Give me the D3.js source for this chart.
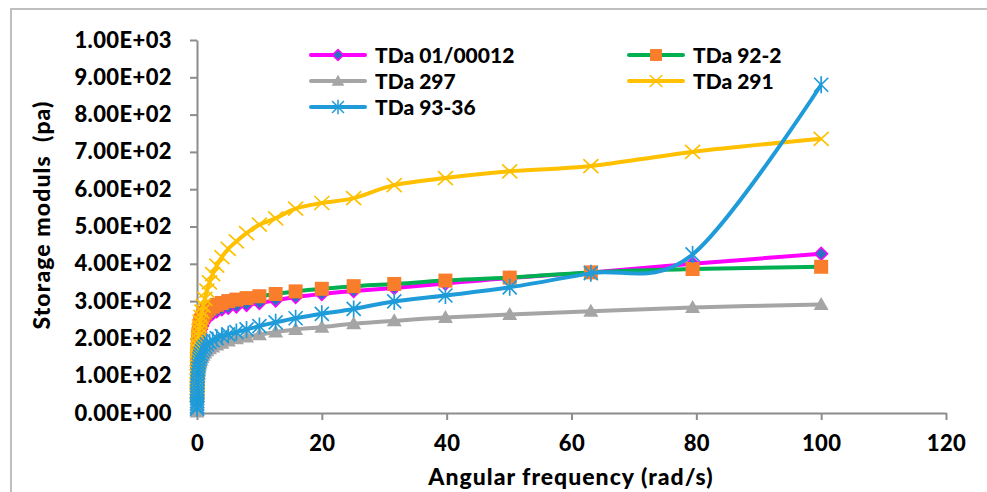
<!DOCTYPE html>
<html>
<head>
<meta charset="utf-8">
<script src="https://cdn.jsdelivr.net/npm/d3@7"></script>
<style>
  html, body { margin: 0; padding: 0; background: #fff; }
  svg { display: block; font-family: Lato, "Open Sans", sans-serif; font-weight: 900; }
</style>
</head>
<body>
<svg id="chart" width="987" height="492"></svg>
<script>
// ---- data ----
const freq = [0.01, 0.0126, 0.0158, 0.02, 0.0251, 0.0316, 0.0398, 0.0501, 0.0631, 0.0794,
  0.1, 0.126, 0.158, 0.2, 0.251, 0.316, 0.398, 0.501, 0.631, 0.794,
  1, 1.26, 1.58, 2, 2.51, 3.16, 3.98, 5.01, 6.31, 7.94,
  10, 12.6, 15.8, 20, 25.1, 31.6, 39.8, 50.1, 63.1, 79.4, 100];

const seriesNames = ["TDa 01/00012", "TDa 92-2", "TDa 297", "TDa 291", "TDa 93-36"];

const tda01_00012 = [38, 48, 58, 68, 78, 89, 100, 111, 122, 133,
  144, 155, 166, 177, 187, 197, 207, 216, 225, 233,
  241, 248, 255, 261, 267, 273, 278, 282, 286, 290,
  295, 302, 311, 319, 327, 335, 347, 362, 377, 400, 427];

const tda92_2 = [51, 63, 75, 87, 99, 111, 123, 135, 147, 159,
  170, 181, 192, 203, 213, 222, 231, 240, 248, 255,
  262, 268, 274, 280, 285, 290, 295, 300, 304, 308,
  313, 319, 326, 333, 340, 346, 355, 363, 377, 386, 392];

const tda297 = [3, 8, 14, 20, 27, 34, 42, 50, 58, 67,
  76, 85, 94, 103, 112, 120, 128, 135, 142, 149,
  155, 161, 167, 172, 177, 182, 187, 193, 199, 204,
  210, 217, 224, 230, 239, 247, 256, 264, 273, 283, 291];

const tda291 = [48, 58, 68, 78, 88, 99, 110, 121, 133, 145,
  157, 170, 182, 195, 207, 220, 232, 245, 258, 272,
  288, 306, 328, 350, 372, 395, 418, 440, 460, 482,
  505, 522, 548, 563, 576, 611, 630, 648, 662, 700, 735];

const tda93_36 = [12, 18, 25, 32, 40, 48, 56, 65, 74, 83,
  92, 101, 110, 119, 128, 136, 144, 151, 158, 165,
  172, 178, 184, 190, 195, 201, 206, 211, 217, 224,
  233, 243, 254, 266, 279, 299, 315, 337, 375, 425, 880];

const xTicks = [0, 20, 40, 60, 80, 100, 120];
const yTicks = [0, 100, 200, 300, 400, 500, 600, 700, 800, 900, 1000];

const xTitle = "Angular frequency (rad/s)";
const yTitle = "Storage moduls  (pa)";

// ---- styles ----
const styles = [
  { line: "#FF00FF", marker: "diamond", fill: "#2E6FC4", stroke: "#FF00FF" },
  { line: "#00B050", marker: "square", fill: "#F97D2A", stroke: "none" },
  { line: "#A5A5A5", marker: "triangle", fill: "#A5A5A5", stroke: "none" },
  { line: "#FFC000", marker: "x", fill: "none", stroke: "#FFC000" },
  { line: "#1F9BD9", marker: "star", fill: "none", stroke: "#1F9BD9" }
];
const seriesValues = [tda01_00012, tda92_2, tda297, tda291, tda93_36];

function markerPath(type, s) {
  switch (type) {
    case "diamond": return `M0,${-6.5*s}L${6.5*s},0L0,${6.5*s}L${-6.5*s},0Z`;
    case "square": return `M${-7*s},${-7*s}H${7*s}V${7*s}H${-7*s}Z`;
    case "triangle": return `M0,${-7.5*s}L${7.5*s},${5.5*s}L${-7.5*s},${5.5*s}Z`;
    case "x": return `M${-7.5*s},${-7*s}L${7.5*s},${7*s}M${-7.5*s},${7*s}L${7.5*s},${-7*s}`;
    case "star": return `M${-7*s},${-7*s}L${7*s},${7*s}M${-7*s},${7*s}L${7*s},${-7*s}M0,${-8.5*s}V${8.5*s}`;
  }
}

const svg = d3.select("#chart");

// outer frame (chart area border)
svg.append("path")
  .attr("d", "M11,492V9H987")
  .attr("fill", "none").attr("stroke", "#BFBFBF").attr("stroke-width", 2);

const x = d3.scaleLinear().domain([0, 120]).range([197, 946]);
const y = d3.scaleLinear().domain([0, 1000]).range([413, 40]);

function fmtE(v) {
  const [m, e] = v.toExponential(2).split("e");
  const sign = e[0] === "-" ? "-" : "+";
  const digits = e.replace(/[+-]/, "").padStart(2, "0");
  return `${m}E${sign}${digits}`;
}

const axisColor = "#8C8C8C";

const gy = svg.append("g").attr("transform", "translate(197,0)")
  .call(d3.axisLeft(y).tickValues(yTicks).tickFormat(fmtE).tickSize(7).tickSizeOuter(0).tickPadding(18));
const gx = svg.append("g").attr("transform", "translate(0,413)")
  .call(d3.axisBottom(x).tickValues(xTicks).tickFormat(d3.format("d")).tickSize(7).tickSizeOuter(0).tickPadding(15));

[gy, gx].forEach(g => {
  g.select(".domain").attr("stroke", axisColor).attr("stroke-width", 2);
  g.selectAll(".tick line").attr("stroke", axisColor).attr("stroke-width", 2);
  g.selectAll(".tick text").attr("fill", "#000").attr("font-size", 22)
    .attr("letter-spacing", "0.4px")
    .attr("font-family", "Lato, 'Open Sans', sans-serif").attr("font-weight", 900);
});

// axis titles
svg.append("text")
  .attr("transform", "translate(50,215) rotate(-90)")
  .attr("text-anchor", "middle")
  .attr("font-size", 23)
  .attr("letter-spacing", "1.1px")
  .style("white-space", "pre")
  .text(yTitle);

svg.append("text")
  .attr("x", 571).attr("y", 485)
  .attr("text-anchor", "middle")
  .attr("font-size", 23)
  .attr("letter-spacing", "1px")
  .text(xTitle);

// series
const line = d3.line()
  .x(d => x(d[0]))
  .y(d => y(d[1]))
  .curve(d3.curveCardinal.tension(0));

seriesValues.forEach((vals, i) => {
  const st = styles[i];
  const pts = freq.map((f, j) => [f, vals[j]]);
  const g = svg.append("g");
  g.append("path").datum(pts)
    .attr("d", line)
    .attr("fill", "none")
    .attr("stroke", st.line)
    .attr("stroke-width", 4)
    .attr("stroke-linejoin", "round");
  g.selectAll("path.m").data(pts).enter().append("path")
    .attr("class", "m")
    .attr("transform", d => `translate(${x(d[0])},${y(d[1])})`)
    .attr("d", markerPath(st.marker, 1))
    .attr("fill", st.fill)
    .attr("stroke", st.stroke)
    .attr("stroke-width", st.marker === "diamond" ? 1.5 : 1.7);
});

// legend
const legendPos = [
  { lx: 311, ly: 55 }, { lx: 629, ly: 55 },
  { lx: 311, ly: 81 }, { lx: 629, ly: 81 },
  { lx: 311, ly: 107 }
];
seriesNames.forEach((name, i) => {
  const st = styles[i];
  const p = legendPos[i];
  const g = svg.append("g").attr("transform", `translate(${p.lx},${p.ly})`);
  g.append("line").attr("x1", 0).attr("x2", 54).attr("y1", 0).attr("y2", 0)
    .attr("stroke", st.line).attr("stroke-width", 4).attr("stroke-linecap", "round");
  g.append("path").attr("transform", "translate(27,0)")
    .attr("d", markerPath(st.marker, 0.85))
    .attr("fill", st.fill).attr("stroke", st.stroke).attr("stroke-width", 1.5);
  g.append("text").attr("x", 64).attr("y", 0).attr("dy", "0.36em")
    .attr("font-size", 21).text(name);
});
</script>
</body>
</html>
